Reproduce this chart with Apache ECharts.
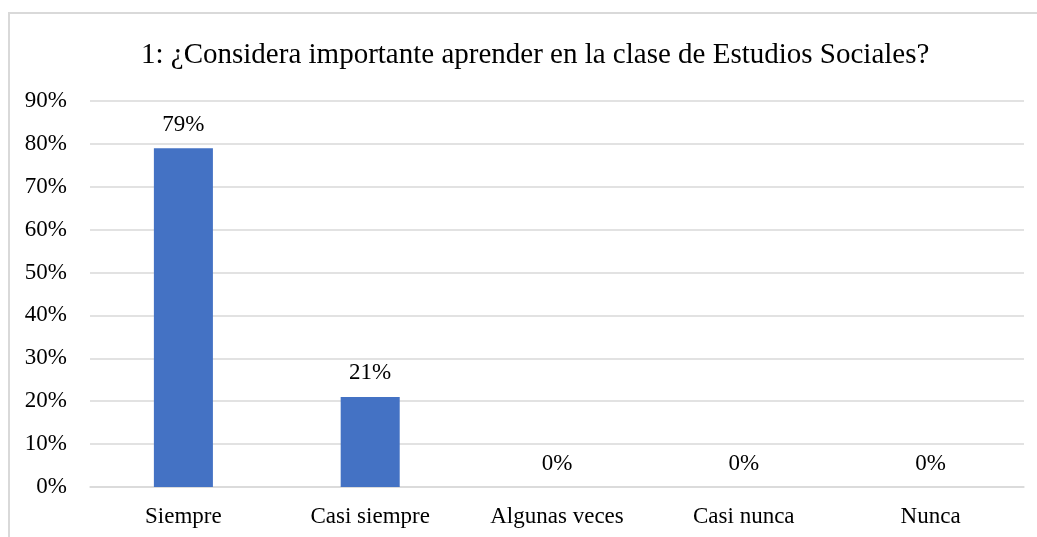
<!DOCTYPE html>
<html>
<head>
<meta charset="utf-8">
<script src="https://cdn.jsdelivr.net/npm/echarts@6/dist/echarts.min.js"></script>
<style>
  html, body { margin: 0; padding: 0; background: #fff; }
  #chart { width: 1037px; height: 537px; }
</style>
</head>
<body>
<div id="chart"></div>
<script>
const titleText = '1: ¿Considera importante aprender en la clase de Estudios Sociales?'
const categories = ['Siempre', 'Casi siempre', 'Algunas veces', 'Casi nunca', 'Nunca']
const percentages = [79, 21, 0, 0, 0]

const serif = '"Liberation Serif", "DejaVu Serif", serif'
const chart = echarts.init(document.getElementById('chart'))

chart.setOption({
  animation: false,
  title: {
    text: titleText,
    left: 136,
    top: 36,
    textStyle: { fontFamily: serif, fontSize: 29, fontWeight: 'normal', color: '#000' }
  },
  graphic: [
    {
      type: 'rect',
      shape: { x: 9, y: 13, width: 1100, height: 600 },
      style: { fill: 'none', stroke: '#d9d9d9', lineWidth: 2 }
    }
  ],
  grid: { left: 90, right: 13, top: 101, bottom: 50 },
  xAxis: {
    type: 'category',
    data: categories,
    axisTick: { show: false },
    axisLine: { lineStyle: { color: '#d9d9d9', width: 1.5 } },
    axisLabel: { fontFamily: serif, fontSize: 23, color: '#000', margin: 18 }
  },
  yAxis: {
    type: 'value',
    min: 0,
    max: 90,
    interval: 10,
    axisLine: { show: false },
    axisTick: { show: false },
    splitLine: { lineStyle: { color: '#d9d9d9', width: 1.5 } },
    axisLabel: {
      fontFamily: serif, fontSize: 23, color: '#000', margin: 23,
      formatter: '{value}%'
    }
  },
  series: [
    {
      type: 'bar',
      data: percentages,
      barWidth: '31.6%',
      itemStyle: { color: '#4472c4' },
      label: {
        show: true,
        position: 'top',
        distance: 12,
        fontFamily: serif,
        fontSize: 23,
        color: '#000',
        formatter: '{c}%'
      }
    }
  ]
})
</script>
</body>
</html>
